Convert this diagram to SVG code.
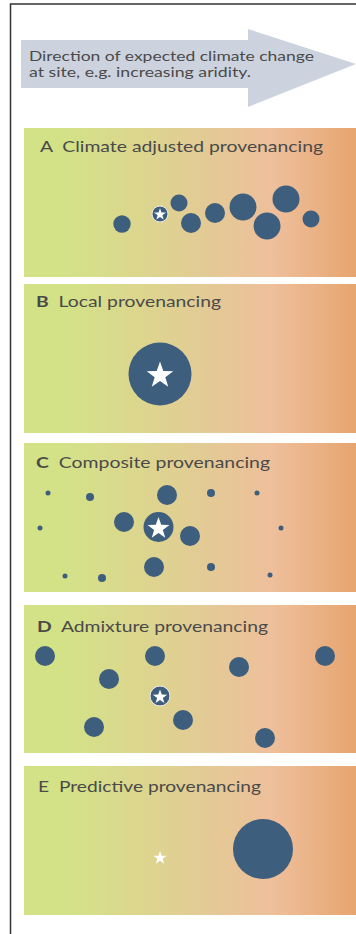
<svg xmlns="http://www.w3.org/2000/svg" width="356" height="934" viewBox="0 0 356 934">
<defs>
<linearGradient id="grad" x1="0" y1="0" x2="1" y2="0">
<stop offset="0" stop-color="#d3e287"/>
<stop offset="0.12" stop-color="#d3e287"/>
<stop offset="0.35" stop-color="#dcd68e"/>
<stop offset="0.55" stop-color="#e3ca95"/>
<stop offset="0.75" stop-color="#eebf9b"/>
<stop offset="1" stop-color="#e7a56f"/>
</linearGradient>
<path id="star" d="M0,-1 L0.235,-0.324 L0.951,-0.309 L0.38,0.124 L0.588,0.809 L0,0.4 L-0.588,0.809 L-0.38,0.124 L-0.951,-0.309 L-0.235,-0.324 Z"/>
</defs>
<style>
.panel{fill:url(#grad)}
.dot{fill:#3e5e7d}
.star{fill:#ffffff}
.title{font-family:Lato,"Noto Sans",sans-serif;font-size:16px;fill:#4a4a4a}
.arrowtxt{font-family:Lato,"Noto Sans",sans-serif;font-size:12.8px;fill:#4a4a4a}
.frame{fill:none;stroke:#333333;stroke-width:1.5}
</style>
<rect width="356" height="934" fill="#ffffff"/>
<path class="frame" d="M10.5,934 V4 H356"/>

<g id="arrow">
<polygon points="21,40 248,40 248,29 356,64 248,107 248,88 21,88" fill="#cdd3de"/>
<text class="arrowtxt" x="29" y="61" textLength="285" lengthAdjust="spacingAndGlyphs">Direction of expected climate change</text>
<text class="arrowtxt" x="29" y="76.8" textLength="222" lengthAdjust="spacingAndGlyphs">at site, e.g. increasing aridity.</text>
</g>

<g id="panelA">
<rect class="panel" x="24" y="128" width="332" height="149"/>
<text class="title" x="40" y="152" textLength="283" lengthAdjust="spacingAndGlyphs">A&#160; Climate adjusted provenancing</text>
<circle class="dot" cx="122" cy="224" r="8.7"/>
<circle class="dot" cx="179" cy="203" r="8.5"/>
<circle class="dot" cx="191" cy="223" r="10"/>
<circle class="dot" cx="215" cy="213" r="10"/>
<circle class="dot" cx="243" cy="207" r="13.5"/>
<circle class="dot" cx="267" cy="226" r="13.5"/>
<circle class="dot" cx="286" cy="199" r="13.5"/>
<circle class="dot" cx="311" cy="219" r="8.5"/>
<circle class="dot" cx="160" cy="214" r="8" stroke="#f2efe6" stroke-width="1"/>
<use href="#star" class="star" transform="translate(160,214.5) scale(6.3)"/>
</g>

<g id="panelB">
<rect class="panel" x="24" y="284" width="332" height="149"/>
<text class="title" x="36" y="307" textLength="185" lengthAdjust="spacingAndGlyphs"><tspan font-weight="bold">B</tspan>&#160; Local provenancing</text>
<circle class="dot" cx="160" cy="374" r="31.5"/>
<use href="#star" class="star" transform="translate(160,375.5) scale(14)"/>
</g>

<g id="panelC">
<rect class="panel" x="24" y="443" width="332" height="149"/>
<text class="title" x="36" y="468" textLength="234" lengthAdjust="spacingAndGlyphs"><tspan font-weight="bold">C</tspan>&#160; Composite provenancing</text>
<circle class="dot" cx="48" cy="493" r="2.5"/>
<circle class="dot" cx="90" cy="497" r="4"/>
<circle class="dot" cx="167" cy="495" r="10"/>
<circle class="dot" cx="211" cy="493" r="4"/>
<circle class="dot" cx="257" cy="493" r="2.5"/>
<circle class="dot" cx="40" cy="528" r="2.5"/>
<circle class="dot" cx="124" cy="522" r="10"/>
<circle class="dot" cx="190" cy="536" r="10"/>
<circle class="dot" cx="281" cy="528" r="2.5"/>
<circle class="dot" cx="154" cy="567" r="10"/>
<circle class="dot" cx="211" cy="567" r="4"/>
<circle class="dot" cx="65" cy="576" r="2.5"/>
<circle class="dot" cx="102" cy="578" r="4"/>
<circle class="dot" cx="270" cy="575" r="2.5"/>
<circle class="dot" cx="158.5" cy="527" r="15"/>
<use href="#star" class="star" transform="translate(158.5,528.5) scale(11.5)"/>
</g>

<g id="panelD">
<rect class="panel" x="24" y="605" width="332" height="148"/>
<text class="title" x="37" y="632" textLength="231" lengthAdjust="spacingAndGlyphs"><tspan font-weight="bold">D</tspan>&#160; Admixture provenancing</text>
<circle class="dot" cx="45" cy="656" r="10"/>
<circle class="dot" cx="155" cy="656" r="10"/>
<circle class="dot" cx="239" cy="667" r="10"/>
<circle class="dot" cx="325" cy="656" r="10"/>
<circle class="dot" cx="109" cy="679" r="10"/>
<circle class="dot" cx="183" cy="720" r="10"/>
<circle class="dot" cx="94" cy="727" r="10"/>
<circle class="dot" cx="265" cy="738" r="10"/>
<circle class="dot" cx="160" cy="696" r="10" stroke="#f2efe6" stroke-width="1"/>
<use href="#star" class="star" transform="translate(160,697) scale(7.5)"/>
</g>

<g id="panelE">
<rect class="panel" x="24" y="766" width="332" height="149"/>
<text class="title" x="38" y="792" textLength="223" lengthAdjust="spacingAndGlyphs">E&#160; Predictive provenancing</text>
<use href="#star" class="star" transform="translate(160,858) scale(7)"/>
<circle class="dot" cx="263" cy="849" r="30"/>
</g>
</svg>
